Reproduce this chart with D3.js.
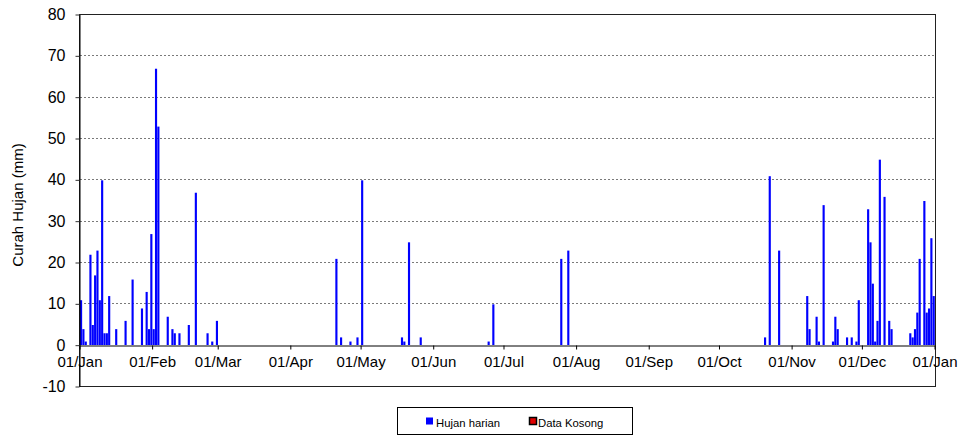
<!DOCTYPE html>
<html>
<head>
<meta charset="utf-8">
<script src="https://cdn.jsdelivr.net/npm/d3@7"></script>
<style>
  html, body { margin: 0; padding: 0; background: #ffffff; }
  svg { display: block; font-family: "Liberation Sans", Arial, sans-serif; }
</style>
</head>
<body>
<svg id="chart" width="958" height="435"></svg>
<script>
// ---- Data ----
const year = 2021;
const rainDates = [
  "01-01","01-02","01-03","01-05","01-06","01-07","01-08","01-09","01-10","01-11",
  "01-12","01-13","01-16","01-20","01-23","01-27","01-29","01-30","01-31","02-01",
  "02-02","02-03","02-07","02-09","02-10","02-12","02-16","02-19","02-24","02-26",
  "02-28",
  "04-20","04-22","04-26","04-29","05-01","05-18","05-19","05-21","05-26","06-24",
  "06-26","07-25","07-28",
  "10-20","10-22","10-26","11-07","11-08","11-11","11-12","11-14","11-18","11-19",
  "11-20","11-24","11-26","11-28","11-29","12-03","12-04","12-05","12-06","12-07",
  "12-08","12-10","12-12","12-13","12-21","12-22","12-23","12-24","12-25","12-27",
  "12-28","12-29","12-30","12-31"
];
const rainValues = [
  11,4,1,22,5,17,23,11,40,3,
  3,12,4,6,16,9,13,4,27,4,
  67,53,7,4,3,3,5,37,3,1,
  6,
  21,2,1,2,40,2,1,25,2,1,
  10,21,23,
  2,41,23,12,4,7,1,34,1,7,
  4,2,2,1,11,33,25,15,1,6,
  45,36,6,4,3,2,4,8,21,35,
  8,9,26,12
];
const yTickValues = [-10, 0, 10, 20, 30, 40, 50, 60, 70, 80];
const yTitle = "Curah Hujan (mm)";
const legendLabels = ["Hujan harian", "Data Kosong"];
const legendColors = ["#0000ff", "#e00000"];

// ---- Layout ----
const svg = d3.select("#chart");
const plotL = 80, plotR = 935, plotT = 15, plotB = 387;
const parse = d3.utcParse("%Y-%m-%d");
const start = new Date(Date.UTC(year, 0, 1));
const end = new Date(Date.UTC(year + 1, 0, 1));

const x = d3.scaleUtc().domain([start, end]).range([plotL, plotR]);
const y = d3.scaleLinear().domain([-10, 80]).range([plotB, plotT]);
const crisp = v => Math.round(v) - 0.5;

const data = rainDates.map((d, i) => ({ date: parse(year + "-" + d), value: rainValues[i] }));

// gridlines
svg.append("g")
  .selectAll("line")
  .data(yTickValues.filter(v => v !== 0 && v !== 80))
  .join("line")
  .attr("x1", plotL).attr("x2", plotR)
  .attr("y1", d => crisp(y(d))).attr("y2", d => crisp(y(d)))
  .attr("stroke", "#7a7a7a")
  .attr("stroke-width", 1)
  .attr("stroke-dasharray", "2,2");

// bars
svg.append("g")
  .selectAll("rect")
  .data(data)
  .join("rect")
  .attr("x", d => x(d.date))
  .attr("width", d => x(d3.utcDay.offset(d.date, 1)) - x(d.date) - 0.2)
  .attr("y", d => y(d.value))
  .attr("height", d => Math.round(y(0)) - 1 - y(d.value))
  .attr("fill", "#0000ff");

// frame
svg.append("rect")
  .attr("x", crisp(plotL)).attr("y", crisp(plotT))
  .attr("width", plotR - plotL + 1).attr("height", plotB - plotT)
  .attr("fill", "none")
  .attr("stroke", "#222")
  .attr("stroke-width", 1);

// x axis at zero
const xTicks = d3.utcMonth.range(start, d3.utcDay.offset(end, 1));
const xAxis = d3.axisBottom(x)
  .tickValues(xTicks)
  .tickFormat(d3.utcFormat("%d/%b"))
  .tickSize(4)
  .tickSizeOuter(0)
  .tickPadding(7);
const gx = svg.append("g")
  .attr("transform", `translate(-0.5,${crisp(y(0))})`)
  .call(xAxis);
gx.select(".domain").attr("stroke", "#000");
gx.selectAll(".tick line").attr("stroke", "#000");
gx.selectAll(".tick text")
  .attr("font-size", 15)
  .attr("font-family", "'Liberation Sans', Arial, sans-serif")
  .attr("fill", "#000");

// y axis
const yAxis = d3.axisLeft(y)
  .tickValues(yTickValues)
  .tickFormat(d => String(d))
  .tickSize(4)
  .tickSizeOuter(0)
  .tickPadding(10);
const gy = svg.append("g")
  .attr("transform", `translate(${crisp(plotL)},-0.5)`)
  .call(yAxis);
gy.select(".domain").attr("stroke", "#000");
gy.selectAll(".tick line").attr("stroke", "#333");
gy.selectAll(".tick text")
  .attr("font-size", 16)
  .attr("font-family", "'Liberation Sans', Arial, sans-serif")
  .attr("fill", "#000");

// y title
svg.append("text")
  .attr("transform", "translate(22.5,205) rotate(-90)")
  .attr("text-anchor", "middle")
  .attr("font-size", 15)
  .attr("fill", "#000")
  .text(yTitle);

// legend
const lg = svg.append("g");
lg.append("rect")
  .attr("x", 397.5).attr("y", 407.5)
  .attr("width", 235).attr("height", 27)
  .attr("fill", "#fff").attr("stroke", "#000");
const legendX = [426, 529.5];
const textX = [436, 538];
legendLabels.forEach((lab, i) => {
  lg.append("rect")
    .attr("x", legendX[i]).attr("y", 417.5)
    .attr("width", 7).attr("height", 7)
    .attr("fill", legendColors[i])
    .attr("stroke", i === 1 ? "#000" : "none")
    .attr("stroke-width", i === 1 ? 1.5 : 0);
  lg.append("text")
    .attr("x", textX[i]).attr("y", 426.5)
    .attr("font-size", 11.3)
    .attr("fill", "#000")
    .text(lab);
});
</script>
</body>
</html>
